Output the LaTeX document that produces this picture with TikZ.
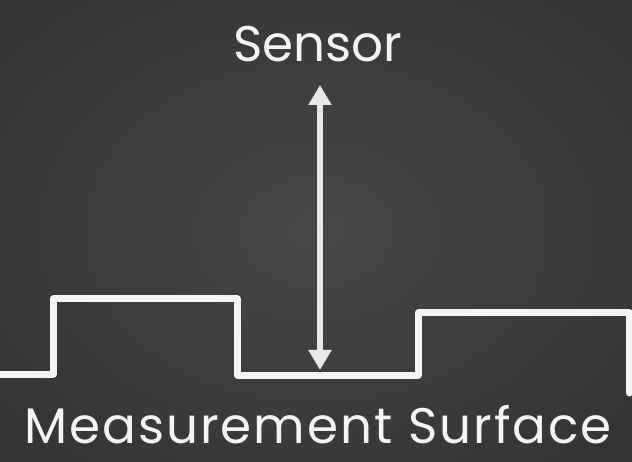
\documentclass[tikz,border=0pt]{standalone}
\usepackage{fontspec}
\setmainfont{Poppins}
\usetikzlibrary{arrows.meta}
\definecolor{board}{HTML}{474747}
\definecolor{boardedge}{HTML}{353535}
\definecolor{chalk}{HTML}{F4F4F4}
\tikzset{
  chalkline/.style={draw=chalk, line width=7pt, line join=round, line cap=round},
  shadowline/.style={draw=black, opacity=0.35, line width=7pt, line join=round, line cap=round},
  gap/.style={draw=chalk!90!gray, line width=6pt,
    {Triangle[width=22pt,length=20pt]}-{Triangle[width=22pt,length=20pt]}},
  label/.style={text=chalk, inner sep=0pt, anchor=base}
}
\begin{document}
\begin{tikzpicture}[x=1pt,y=-1pt]
  % board with darker corners
  \useasboundingbox (0,0) rectangle (632,462);
  \shade[inner color=board, outer color=boardedge] (-80,-60) rectangle (712,522);
  % surface profile
  \coordinate (p0) at (-10,374);
  \coordinate (p1) at (53,374);
  \coordinate (p2) at (53,299);
  \coordinate (p3) at (237,299);
  \coordinate (p4) at (237,375);
  \coordinate (p5) at (418,375);
  \coordinate (p6) at (418,313);
  \coordinate (p7) at (629,313);
  \coordinate (p8) at (629,393);
  \draw[shadowline, xshift=2pt, yshift=-3pt] (p0) -- (p1) -- (p2) -- (p3) -- (p4) -- (p5) -- (p6) -- (p7) -- (p8);
  \draw[chalkline] (p0) -- (p1) -- (p2) -- (p3) -- (p4) -- (p5) -- (p6) -- (p7) -- (p8);
  % labels
  \node[label, font=\fontsize{50}{56}\selectfont] (sensor) at (318,62) {Sensor};
  \node[label, font=\fontsize{50}{56}\selectfont\addfontfeatures{LetterSpace=4}] (surface) at (318,443) {Measurement Surface};
  % distance arrow between sensor and surface
  \coordinate (top) at (320,85);
  \coordinate (bot) at (320,370);
  \draw[gap] (top) -- (bot);
\end{tikzpicture}
\end{document}
